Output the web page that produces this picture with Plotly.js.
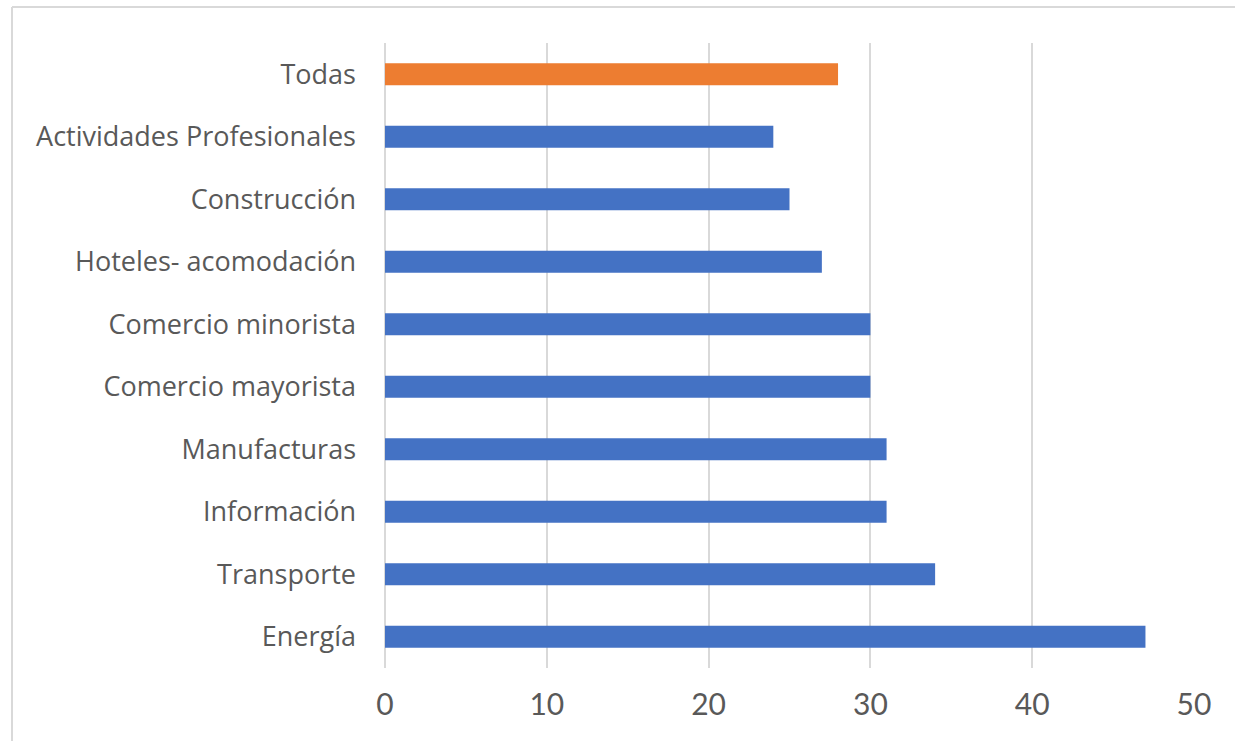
<!DOCTYPE html>
<html><head><meta charset="utf-8">
<script src="https://cdn.plot.ly/plotly-3.0.1.min.js"></script>
<style>html,body{margin:0;padding:0;background:#fff}#c{width:1235px;height:741px}</style>
</head><body><div id="c"></div>
<script>
const categories = ["Todas","Actividades Profesionales","Construcción","Hoteles- acomodación","Comercio minorista","Comercio mayorista","Manufacturas","Información","Transporte","Energía"];
const values = [28,24,25,27,30,30,31,31,34,47];
const barColors = ["#ED7D31","#4472C4","#4472C4","#4472C4","#4472C4","#4472C4","#4472C4","#4472C4","#4472C4","#4472C4"];
const xTicks = [0,10,20,30,40,50];

const L=385,R=41,T=43,B=73,W=1235,H=741;
const pw=W-L-R, ph=H-T-B;
const px=x=>(x-L)/pw, py=y=>(H-B-y)/ph;

Plotly.newPlot('c',[{
  type:'bar', orientation:'h', x:values, y:categories,
  marker:{color:barColors, line:{width:0}}, width:0.35, hoverinfo:'none'
}],{
  width:W,height:H,margin:{l:L,r:R,t:T,b:B},
  paper_bgcolor:'#fff',plot_bgcolor:'#fff',showlegend:false,
  font:{family:'"Open Sans", sans-serif',color:'#595959',size:24},
  xaxis:{range:[0,50],tickvals:xTicks,showgrid:true,gridcolor:'#d9d9d9',gridwidth:2,
    zeroline:true,zerolinecolor:'#d9d9d9',zerolinewidth:2,showline:false,ticks:'',ticklabelstandoff:16,
    tickfont:{family:'Lato, sans-serif',size:30,color:'#595959'},fixedrange:true},
  yaxis:{type:'category',autorange:'reversed',showgrid:false,zeroline:false,showline:false,ticks:'',
    ticklabelstandoff:28,tickfont:{family:'"Open Sans", sans-serif',size:27,color:'#595959'},fixedrange:true},
  shapes:[
    {type:'line',xref:'paper',yref:'paper',x0:px(12),x1:px(1240),y0:py(7),y1:py(7),line:{color:'#d9d9d9',width:2}},
    {type:'line',xref:'paper',yref:'paper',x0:px(12),x1:px(12),y0:py(7),y1:py(745),line:{color:'#d9d9d9',width:2}}
  ]
},{displayModeBar:false,staticPlot:true});
</script></body></html>
